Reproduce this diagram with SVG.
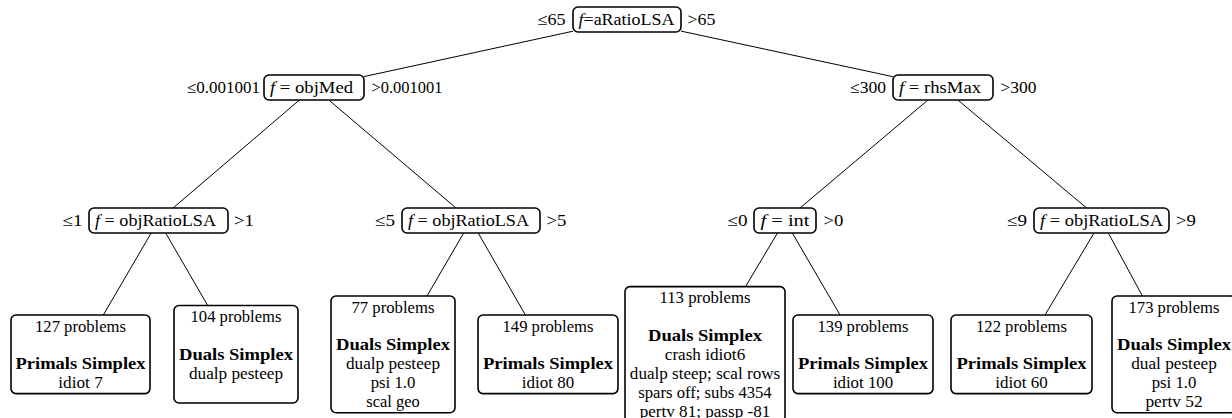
<svg xmlns="http://www.w3.org/2000/svg" width="1232" height="418" viewBox="0 0 1232 418" font-family="'Liberation Serif', 'Times New Roman', serif">
<style>
text{font-size:16px;fill:#000}
.m{text-anchor:middle}
.b{font-weight:bold}
.i{font-style:italic}
.box{fill:#fff;stroke:#000;stroke-width:1.6}
.edge{stroke:#000;stroke-width:1;fill:none}
</style>
<rect width="1232" height="418" fill="#fff"/>
<g id="connectors">
<line class="edge" x1="573" y1="31.2" x2="364" y2="76.6"/>
<line class="edge" x1="681" y1="31.1" x2="893" y2="76.7"/>
<line class="edge" x1="299.4" y1="100" x2="173.1" y2="208"/>
<line class="edge" x1="328.8" y1="100" x2="456" y2="208"/>
<line class="edge" x1="928" y1="100" x2="800" y2="208"/>
<line class="edge" x1="957.9" y1="100" x2="1086.6" y2="208"/>
<line class="edge" x1="151.2" y1="233" x2="103.3" y2="315"/>
<line class="edge" x1="165.7" y1="233" x2="207.7" y2="305.5"/>
<line class="edge" x1="463.7" y1="233" x2="427" y2="296"/>
<line class="edge" x1="478.2" y1="233" x2="525.4" y2="315"/>
<line class="edge" x1="777.5" y1="233" x2="745.5" y2="286.6"/>
<line class="edge" x1="792.3" y1="233" x2="840.1" y2="315"/>
<line class="edge" x1="1094" y1="233" x2="1045" y2="315"/>
<line class="edge" x1="1108.3" y1="233" x2="1142.4" y2="296"/>
</g>
<g id="root">
<text class="m" x="551.5" y="25" textLength="28" lengthAdjust="spacingAndGlyphs">≤65</text>
<rect class="box" x="573" y="7" width="108" height="25" rx="5"/>
<text class="m" x="626.5" y="25" textLength="96" lengthAdjust="spacingAndGlyphs"><tspan class="i">f</tspan>=aRatioLSA</text>
<text class="m" x="701.5" y="25" textLength="28" lengthAdjust="spacingAndGlyphs">&gt;65</text>
</g>
<g id="n_objMed">
<text class="m" x="223.5" y="93" textLength="73" lengthAdjust="spacingAndGlyphs">≤0.001001</text>
<rect class="box" x="264" y="75" width="100" height="25" rx="5"/>
<text x="270" y="93" textLength="83" lengthAdjust="spacingAndGlyphs"><tspan class="i">f</tspan> = objMed</text>
<text class="m" x="407" y="93" textLength="71" lengthAdjust="spacingAndGlyphs">&gt;0.001001</text>
</g>
<g id="n_rhsMax">
<text class="m" x="868" y="93" textLength="36" lengthAdjust="spacingAndGlyphs">≤300</text>
<rect class="box" x="893" y="75" width="100" height="25" rx="5"/>
<text x="899" y="93" textLength="82" lengthAdjust="spacingAndGlyphs"><tspan class="i">f</tspan> = rhsMax</text>
<text class="m" x="1018.5" y="93" textLength="36" lengthAdjust="spacingAndGlyphs">&gt;300</text>
</g>
<g id="n_objRatioLSA_1">
<text class="m" x="72.5" y="226" textLength="20" lengthAdjust="spacingAndGlyphs">≤1</text>
<rect class="box" x="89" y="208" width="139" height="25" rx="5"/>
<text x="95" y="226" textLength="121" lengthAdjust="spacingAndGlyphs"><tspan class="i">f</tspan> = objRatioLSA</text>
<text class="m" x="244" y="226" textLength="20" lengthAdjust="spacingAndGlyphs">&gt;1</text>
</g>
<g id="n_objRatioLSA_5">
<text class="m" x="385" y="226" textLength="20" lengthAdjust="spacingAndGlyphs">≤5</text>
<rect class="box" x="402" y="208" width="138" height="25" rx="5"/>
<text x="408" y="226" textLength="121" lengthAdjust="spacingAndGlyphs"><tspan class="i">f</tspan> = objRatioLSA</text>
<text class="m" x="556.5" y="226" textLength="20" lengthAdjust="spacingAndGlyphs">&gt;5</text>
</g>
<g id="n_int">
<text class="m" x="737.5" y="226" textLength="20" lengthAdjust="spacingAndGlyphs">≤0</text>
<rect class="box" x="754" y="208" width="62" height="25" rx="5"/>
<text class="m" x="785" y="226" textLength="49" lengthAdjust="spacingAndGlyphs"><tspan class="i">f</tspan> = int</text>
<text class="m" x="833.5" y="226" textLength="20" lengthAdjust="spacingAndGlyphs">&gt;0</text>
</g>
<g id="n_objRatioLSA_9">
<text class="m" x="1017" y="226" textLength="20" lengthAdjust="spacingAndGlyphs">≤9</text>
<rect class="box" x="1034" y="208" width="135" height="25" rx="5"/>
<text class="m" x="1101.5" y="226" textLength="123" lengthAdjust="spacingAndGlyphs"><tspan class="i">f</tspan> = objRatioLSA</text>
<text class="m" x="1186" y="226" textLength="20" lengthAdjust="spacingAndGlyphs">&gt;9</text>
</g>
<g id="leaf1">
<rect class="box" x="11" y="315" width="139" height="78.6" rx="5"/>
<text class="m" x="80.5" y="331.5" textLength="91" lengthAdjust="spacingAndGlyphs">127 problems</text>
<text class="m b" x="80.5" y="369.3" textLength="130" lengthAdjust="spacingAndGlyphs">Primals Simplex</text>
<text class="m" x="80.5" y="388.2" textLength="44.5" lengthAdjust="spacingAndGlyphs">idiot 7</text>
</g>
<g id="leaf2">
<rect class="box" x="174" y="305.5" width="124" height="97.5" rx="5"/>
<text class="m" x="236" y="322" textLength="91" lengthAdjust="spacingAndGlyphs">104 problems</text>
<text class="m b" x="236" y="359.8" textLength="114" lengthAdjust="spacingAndGlyphs">Duals Simplex</text>
<text class="m" x="236" y="378.7" textLength="94" lengthAdjust="spacingAndGlyphs">dualp pesteep</text>
</g>
<g id="leaf3">
<rect class="box" x="331" y="296" width="124" height="116.7" rx="5"/>
<text class="m" x="393" y="312.5" textLength="83" lengthAdjust="spacingAndGlyphs">77 problems</text>
<text class="m b" x="393" y="350.3" textLength="114" lengthAdjust="spacingAndGlyphs">Duals Simplex</text>
<text class="m" x="393" y="369.2" textLength="94" lengthAdjust="spacingAndGlyphs">dualp pesteep</text>
<text class="m" x="393" y="388.1" textLength="44.6" lengthAdjust="spacingAndGlyphs">psi 1.0</text>
<text class="m" x="393" y="407" textLength="53.3" lengthAdjust="spacingAndGlyphs">scal geo</text>
</g>
<g id="leaf4">
<rect class="box" x="478" y="315" width="140" height="78.6" rx="5"/>
<text class="m" x="548" y="331.5" textLength="91" lengthAdjust="spacingAndGlyphs">149 problems</text>
<text class="m b" x="548" y="369.3" textLength="130" lengthAdjust="spacingAndGlyphs">Primals Simplex</text>
<text class="m" x="548" y="388.2" textLength="52.3" lengthAdjust="spacingAndGlyphs">idiot 80</text>
</g>
<g id="leaf5">
<rect class="box" x="625" y="286.6" width="160" height="135.4" rx="5"/>
<text class="m" x="705" y="303.1" textLength="91" lengthAdjust="spacingAndGlyphs">113 problems</text>
<text class="m b" x="705" y="340.9" textLength="114" lengthAdjust="spacingAndGlyphs">Duals Simplex</text>
<text class="m" x="705" y="359.8" textLength="80.4" lengthAdjust="spacingAndGlyphs">crash idiot6</text>
<text class="m" x="705" y="378.7" textLength="150.3" lengthAdjust="spacingAndGlyphs">dualp steep; scal rows</text>
<text class="m" x="705" y="397.6" textLength="133.4" lengthAdjust="spacingAndGlyphs">spars off; subs 4354</text>
<text class="m" x="705" y="416.5" textLength="130.6" lengthAdjust="spacingAndGlyphs">pertv 81; passp -81</text>
</g>
<g id="leaf6">
<rect class="box" x="793" y="315" width="140" height="78.6" rx="5"/>
<text class="m" x="863" y="331.5" textLength="91" lengthAdjust="spacingAndGlyphs">139 problems</text>
<text class="m b" x="863" y="369.3" textLength="130" lengthAdjust="spacingAndGlyphs">Primals Simplex</text>
<text class="m" x="863" y="388.2" textLength="60.2" lengthAdjust="spacingAndGlyphs">idiot 100</text>
</g>
<g id="leaf7">
<rect class="box" x="951" y="315" width="141" height="78.6" rx="5"/>
<text class="m" x="1021.5" y="331.5" textLength="91" lengthAdjust="spacingAndGlyphs">122 problems</text>
<text class="m b" x="1021.5" y="369.3" textLength="130" lengthAdjust="spacingAndGlyphs">Primals Simplex</text>
<text class="m" x="1021.5" y="388.2" textLength="52.3" lengthAdjust="spacingAndGlyphs">idiot 60</text>
</g>
<g id="leaf8">
<rect class="box" x="1112" y="296" width="124" height="116.7" rx="5"/>
<text class="m" x="1174" y="312.5" textLength="91" lengthAdjust="spacingAndGlyphs">173 problems</text>
<text class="m b" x="1174" y="350.3" textLength="114" lengthAdjust="spacingAndGlyphs">Duals Simplex</text>
<text class="m" x="1174" y="369.2" textLength="85.6" lengthAdjust="spacingAndGlyphs">dual pesteep</text>
<text class="m" x="1174" y="388.1" textLength="44.6" lengthAdjust="spacingAndGlyphs">psi 1.0</text>
<text class="m" x="1174" y="407" textLength="57.2" lengthAdjust="spacingAndGlyphs">pertv 52</text>
</g>
</svg>
